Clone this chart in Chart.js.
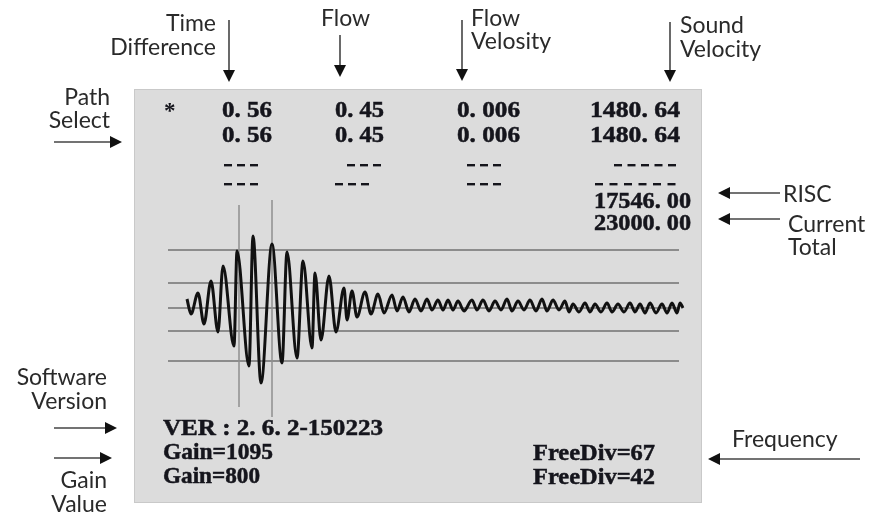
<!DOCTYPE html>
<html>
<head>
<meta charset="utf-8">
<script src="https://cdn.jsdelivr.net/npm/chart.js@4.4.1/dist/chart.umd.min.js"></script>
<style>
html, body { margin: 0; padding: 0; background: #fff; }
#scope { display: block; }
</style>
</head>
<body>
<canvas id="scope" width="871" height="516"></canvas>
<script>
// 波形的极值点（采样位置 / 幅值），从截图上读出
const waveX = [19, 23, 30, 36, 43, 50, 55, 66, 69, 81, 85, 93, 104, 114, 119, 129, 135, 144, 147, 153,
  161, 168, 176, 179, 184, 189, 197, 203, 210, 216, 224, 229, 235, 241, 247, 253, 259, 264, 270, 275,
  280, 285, 290, 296, 304, 309, 315, 321, 327, 333, 339, 344, 350, 356, 362, 368, 374, 379, 385, 391,
  397, 401, 405, 411, 417, 422, 427, 433, 439, 444, 450, 456, 462, 467, 472, 477, 482, 488, 494, 499,
  504, 509, 512, 515];
const waveY = [9, -6, 15, -16, 27, -24, 42, -38, 57, -58, 72, -75, 64, -55, 56, -50, 47, -40, 35, -32,
  32, -24, 20, -12, 17, -9, 16, -6, 14, -5, 13, -3, 11, -4, 9, -3, 9, -2, 8, -2,
  8, -2, 7, -3, 8, -2, 8, -3, 7, -2, 9, -3, 7, -2, 8, -3, 9, -3, 8, -2,
  7, -4, 4, -4, 5, -4, 4, -4, 5, -4, 4, -4, 5, -4, 4, -5, 5, -5, 4, -5,
  5, -5, 5, 0];

// 屏幕上的水平参考线和两条光标
const gridLevels = [58, 25, 0, -23, -53];
const gridSpan = [0, 511];
const cursorX = [71, 104];
const cursorTop = [103, 108];
const cursorBottom = [-99, -109];

// 屏幕读数 [文字, x, 基线y, 总宽]
const readings = [
  ['0. 56', 222, 117, 50], ['0. 45', 335, 117, 49], ['0. 006', 457, 117, 63], ['1480. 64', 590, 117, 90],
  ['0. 56', 222, 142, 50], ['0. 45', 335, 142, 49], ['0. 006', 457, 142, 63], ['1480. 64', 590, 142, 90],
  ['17546. 00', 594, 208, 97], ['23000. 00', 594, 230, 97],
  ['VER : 2. 6. 2-150223', 163, 435, 220],
  ['Gain=1095', 163, 459, 110], ['Gain=800', 163, 483, 97],
  ['FreeDiv=67', 533, 460, 122], ['FreeDiv=42', 533, 484, 122]
];
// 空位的短横线 [个数, x, 中心y, 间距]
const dashRows = [
  [3, 224, 165, 13], [3, 347, 165, 13], [3, 467, 165, 13], [5, 614, 165, 13.5],
  [3, 224, 184, 13], [3, 335, 184, 13], [3, 467, 184, 13], [6, 595, 184, 14.5]
];

// 外侧说明文字 [文字, x, 基线y, 对齐]
const labels = [
  ['Time', 216, 31, 'right'], ['Difference', 216, 55, 'right'],
  ['Flow', 321, 26, 'left'],
  ['Flow', 471, 26, 'left'], ['Velosity', 471, 49, 'left'],
  ['Sound', 680, 33, 'left'], ['Velocity', 680, 57, 'left'],
  ['Path', 110, 105, 'right'], ['Select', 110, 128, 'right'],
  ['RISC', 783, 202, 'left'],
  ['Current', 788, 232, 'left'], ['Total', 788, 255, 'left'],
  ['Software', 107, 385, 'right'], ['Version', 107, 409, 'right'],
  ['Gain', 107, 488, 'right'], ['Value', 107, 512, 'right'],
  ['Frequency', 732, 447, 'left']
];

// 箭头 [起点x, 起点y, 箭头x, 箭头y]
const arrows = [
  [229, 20, 229, 82], [340, 35, 340, 77], [462, 20, 462, 81], [670, 22, 670, 82],
  [54, 142, 122, 142], [780, 193, 718, 193], [780, 219, 718, 219],
  [54, 428, 117, 428], [54, 458, 112, 458], [860, 459, 708, 459]
];

const panelBox = { left: 134, top: 89, right: 701, bottom: 502 };

function fitText(ctx, str, x, y, width) {
  const w = ctx.measureText(str).width;
  ctx.save();
  ctx.translate(x, y);
  ctx.scale(width / w, 1);
  ctx.fillText(str, 0, 0);
  ctx.strokeText(str, 0, 0);
  ctx.restore();
}

function drawArrow(ctx, x0, y0, x1, y1) {
  const a = Math.atan2(y1 - y0, x1 - x0);
  const hl = 12, hw = 6;
  ctx.strokeStyle = '#444';
  ctx.lineWidth = 1.6;
  ctx.beginPath();
  ctx.moveTo(x0, y0);
  ctx.lineTo(x1 - hl * Math.cos(a), y1 - hl * Math.sin(a));
  ctx.stroke();
  ctx.fillStyle = '#111';
  ctx.beginPath();
  ctx.moveTo(x1, y1);
  ctx.lineTo(x1 - hl * Math.cos(a) - hw * Math.sin(a), y1 - hl * Math.sin(a) + hw * Math.cos(a));
  ctx.lineTo(x1 - hl * Math.cos(a) + hw * Math.sin(a), y1 - hl * Math.sin(a) - hw * Math.cos(a));
  ctx.closePath();
  ctx.fill();
}

const screenPlugin = {
  id: 'screen',
  beforeDraw(chart) {
    const ctx = chart.ctx;
    ctx.save();
    ctx.fillStyle = '#fff';
    ctx.fillRect(0, 0, chart.width, chart.height);
    ctx.fillStyle = '#dcdcdc';
    ctx.fillRect(panelBox.left, panelBox.top, panelBox.right - panelBox.left, panelBox.bottom - panelBox.top);
    ctx.strokeStyle = '#c9c9c9';
    ctx.lineWidth = 1;
    ctx.strokeRect(panelBox.left + 0.5, panelBox.top + 0.5, panelBox.right - panelBox.left, panelBox.bottom - panelBox.top);
    ctx.restore();
  },
  afterDraw(chart) {
    const ctx = chart.ctx;
    ctx.save();
    ctx.textAlign = 'left';
    ctx.textBaseline = 'alphabetic';
    ctx.fillStyle = '#15151c';
    ctx.strokeStyle = '#15151c';
    ctx.lineWidth = 0.5;
    ctx.font = 'bold 23px "Liberation Serif", "DejaVu Serif", serif';
    ctx.fillText('*', 164, 118);
    readings.forEach(r => fitText(ctx, r[0], r[1], r[2], r[3]));
    dashRows.forEach(d => {
      for (let i = 0; i < d[0]; i++) {
        ctx.fillRect(d[1] + i * d[3], d[2] - 1, 8, 2.4);
      }
    });

    ctx.fillStyle = '#2a2a2a';
    ctx.font = '23px Lato, "Open Sans", sans-serif';
    labels.forEach(l => {
      ctx.textAlign = l[3];
      ctx.fillText(l[0], l[1], l[2]);
    });
    arrows.forEach(a => drawArrow(ctx, a[0], a[1], a[2], a[3]));
    ctx.restore();
  }
};

const datasets = [{
  data: waveX.map((x, i) => ({ x: x, y: waveY[i] })),
  borderColor: '#111',
  borderWidth: 3,
  cubicInterpolationMode: 'monotone',
  order: 0
}];
gridLevels.forEach(lvl => datasets.push({
  data: gridSpan.map(x => ({ x: x, y: lvl })),
  borderColor: '#8c8c8c',
  borderWidth: 2,
  order: 2
}));
cursorX.forEach((x, i) => datasets.push({
  data: [{ x: x, y: cursorTop[i] }, { x: x, y: cursorBottom[i] }],
  borderColor: '#8e8e8e',
  borderWidth: 1.5,
  order: 1
}));

new Chart(document.getElementById('scope').getContext('2d'), {
  type: 'scatter',
  data: { datasets: datasets },
  options: {
    responsive: false,
    animation: false,
    showLine: true,
    elements: { point: { radius: 0, hoverRadius: 0 }, line: { fill: false } },
    layout: { padding: { left: 168, right: 183, top: 200, bottom: 96 } },
    scales: {
      x: { type: 'linear', min: 0, max: 520, display: false },
      y: { type: 'linear', min: -112, max: 108, display: false }
    },
    plugins: { legend: { display: false }, tooltip: { enabled: false } }
  },
  plugins: [screenPlugin]
});
</script>
</body>
</html>
